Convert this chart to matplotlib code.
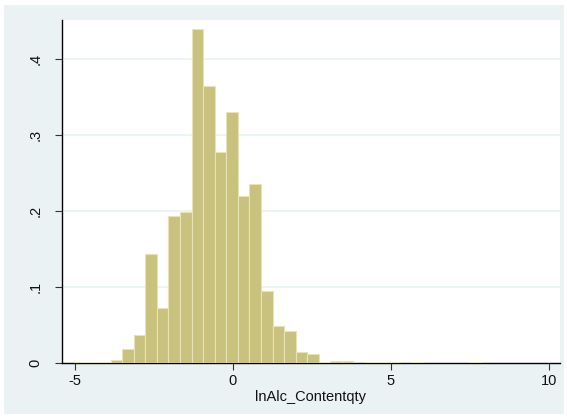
import matplotlib
matplotlib.use("Agg")
import matplotlib.pyplot as plt
from matplotlib.patches import Rectangle

plt.rcParams["font.family"] = ["Liberation Sans", "DejaVu Sans"]

# histogram of lnAlc_Contentqty (density), 35 bins
bin_start = -4.97
bin_width = 0.366
density = [0.0017, 0.0017, 0.0017, 0.004, 0.019, 0.037, 0.144, 0.073, 0.194, 0.199,
           0.439, 0.364, 0.278, 0.330, 0.220, 0.236, 0.095, 0.049, 0.042, 0.0147,
           0.012, 0.001, 0.003, 0.003, 0.0005, 0.0017, 0.001, 0.001, 0.0, 0.0015,
           0.0, 0.0, 0.0, 0.0, 0.0015]
edges = [bin_start + bin_width * i for i in range(len(density))]

x_ticks = [-5, 0, 5, 10]
y_ticks = [0, 0.1, 0.2, 0.3, 0.4]
y_labels = ["0", ".1", ".2", ".3", ".4"]

bg = "#EAF2F3"

fig = plt.figure(figsize=(5.67, 4.18), dpi=100, facecolor="white")
fig.patches.append(Rectangle((4 / 567, 4 / 418), 560 / 567, 409 / 418,
                             transform=fig.transFigure, facecolor=bg,
                             edgecolor="none", zorder=-10))
ax = fig.add_axes([62 / 567, 1 - 363 / 418, 498 / 567, 343 / 418])
ax.set_facecolor("white")

ax.bar(edges, density, width=bin_width, align="edge",
       color="#C9C27E", edgecolor="#E8E3B4", linewidth=0.8, zorder=3)

ax.set_xlim(-5.41, 10.35)
ax.set_ylim(0, 0.4513)
ax.set_xticks(x_ticks)
ax.set_xticklabels([str(t) for t in x_ticks])
ax.set_yticks(y_ticks)
ax.set_yticklabels(y_labels, rotation=90, va="center")
ax.grid(axis="y", color=bg, linewidth=1.2, zorder=0)
for t in ax.get_ygridlines()[:1]:
    t.set_visible(False)

for s in ["top", "right"]:
    ax.spines[s].set_visible(False)
for s in ["left", "bottom"]:
    ax.spines[s].set_color("black")
    ax.spines[s].set_linewidth(1.0)

ax.tick_params(axis="both", direction="out", length=5, width=0.8,
               color="#333333", labelsize=10.5, labelcolor="#111111", pad=3)
ax.tick_params(axis="y", pad=9)
ax.set_xlabel("lnAlc_Contentqty", fontsize=10.5, color="#111111", labelpad=1)

fig.savefig("out.png", dpi=100, facecolor=fig.get_facecolor())
